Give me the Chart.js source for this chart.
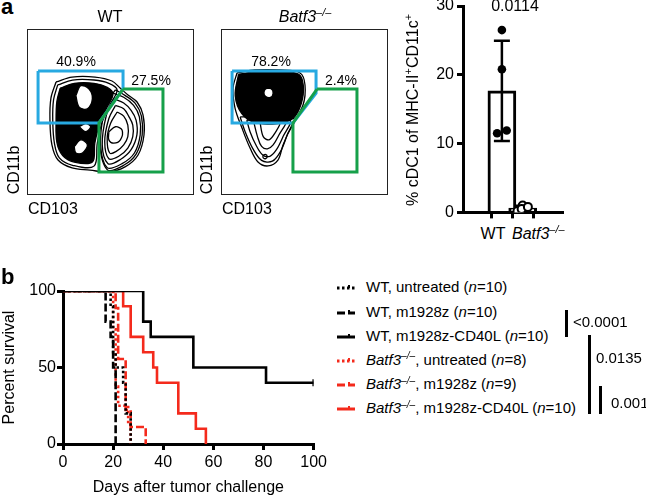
<!DOCTYPE html>
<html>
<head>
<meta charset="utf-8">
<script src="https://cdn.jsdelivr.net/npm/chart.js@4.4.1/dist/chart.umd.min.js"></script>
<style>
  body { margin: 0; background: #fff; }
  #fig { position: relative; width: 646px; height: 499px; overflow: hidden; background: #fff;
         font-family: "Liberation Sans", Arial, sans-serif; color: #000; }
  .abs { position: absolute; }
  .box { position: absolute; outline: 1px solid #222; width: 165px; height: 164px; }
  .box canvas { display: block; }
  .lbl { position: absolute; line-height: 1; white-space: nowrap; }
  .lbl sup { font-size: 0.68em; vertical-align: 0; position: relative; top: -0.55em; }
  .vlbl { position: absolute; line-height: 1; white-space: nowrap; transform: translate(-50%, -50%) rotate(-90deg); }
  .vlbl sup { font-size: 0.68em; vertical-align: 0; position: relative; top: -0.55em; }
  .sig { position: absolute; background: #000; width: 3px; }
</style>
</head>
<body>
<div id="fig">
  <div class="box" style="left:28px;top:30px;"><canvas id="flowWt" width="165" height="164"></canvas></div>
  <div class="box" style="left:222px;top:30px;"><canvas id="flowBatf" width="165" height="164"></canvas></div>
  <canvas id="cdcChart" class="abs" style="left:420px;top:-10px;" width="148" height="235"></canvas>
  <canvas id="survChart" class="abs" style="left:0;top:270px;" width="330" height="229"></canvas>
</div>
<script>
// ---- panel a: flow plots (CD103 on x, CD11b on y, arbitrary 0-100 units) ----
const wtOuter = [[17,68.3],[26.7,71.3],[40.6,71.3],[50.9,68.9],[55.8,64.6],[60.6,60.4],[66.1,56.1],[69.7,48.2],[70.3,36],[66.7,23.8],[58.8,16.5],[48.5,13.4],[37.6,14.6],[26.7,15.9],[18.2,20.7],[14.5,29.9],[13.3,45.1],[13.9,58.5]];
const wtLeftRing = [[18,66.5],[27,69.5],[40,69.5],[49,67.5],[54,63.5],[50,55],[45,44],[42,31],[40,17],[27,17.5],[19,22],[16,31],[15,45],[15.5,57.5]];
const wtCore = [[19.5,64.5],[28,67.5],[40,67.5],[48,65],[51.5,61],[48,53],[43.5,43],[40.5,31],[39,19.5],[28,19.5],[21,23.5],[17.5,31.5],[17,45],[17.5,56.5]];
const wtRings = [
  [[53,63.5],[59,60],[65,55.3],[68.7,47.6],[69.2,36],[65.6,24.5],[58,17.5],[48.2,14.7],[43.5,30],[45,52]],
  [[50,62],[58,59],[64,54],[67.5,47],[68,36],[64.5,25],[57,18.5],[48,16],[44,30],[46,50]],
  [[52,58],[58,55.5],[62.5,51],[65.5,45],[66,36],[62.5,27],[56,21],[48.5,18.5],[45,30],[47.5,48]],
  [[53,54],[58,52],[61,47.5],[63.5,42],[63.5,35],[60.5,28],[55,23],[49,21.5],[46.5,32],[49,46]],
  [[54,50],[58,47.5],[60.5,42],[60.5,35],[58,30],[53.5,26],[49.5,25],[48,34],[50,43]]
];
const wtHoles = [
  [[29,60],[32,66],[37,64],[39,58],[36,52],[31,53]],
  [[28,29],[32,33],[36,30],[33,25],[29,25]],
  [[31,41],[35,43],[38,41],[35,38]],
  [[49,38],[53,41],[57,39],[56,33],[52,31],[49,33]]
];
const wtGateCd11b = [[6.1,75],[57.6,75],[57.6,64],[43,43.3],[6.1,43.3]];
const wtGateCd103 = [[57.6,64],[81.8,64],[81.8,13.4],[43,13.4],[43,43.3]];

const batfOuter = [[9.1,73.8],[20,75.6],[35.2,75.6],[47.3,73.8],[50.3,66.5],[49.1,54.3],[42.4,42.1],[37,29.9],[33.9,20.7],[27.9,17.1],[21.8,19.5],[17,28],[12.1,40.2],[7.9,52.4],[6.7,64.6]];
const batfCore = [[10,73],[20,74.5],[35,74.5],[46.5,73],[49.3,66],[48,55],[43,46],[34,43],[20,43.5],[12,49],[8,60]];
const batfRings = [
  [[11,47],[43.5,46],[39.5,36],[35.5,26],[30.5,20],[24,20.5],[18.5,28],[14,38]],
  [[15,45],[41,45],[37,35],[33,27],[29,23],[24.5,24],[20.5,30],[17,38]],
  [[19,45],[38.5,45],[34.5,36],[31,30],[27.5,27.5],[24,29],[21.5,35]],
  [[23,44],[35,44],[32,37],[28.5,33],[25,35]],
  [[24.8,23.5],[26.2,24.2],[27.4,23],[26.5,21.6],[25,22]]
];
const batfHoles = [[[26.8,63.5],[29.3,63.5],[30.2,61.5],[29,59.6],[26.8,60.2],[26.2,61.8]]];
const batfGateCd11b = [[6.1,75],[57,75],[57,61.5],[43,43.3],[6.1,43.3]];
const batfGateCd103 = [[57.6,64],[81.8,64],[81.8,13.4],[43,13.4],[43,43.3]];

// ---- panel a: % cDC1 bar chart ----
const cdcGroups = ['WT', 'Batf3'];
const wtCdc1 = [26.5, 20.8, 11.5, 11.9];
const batfCdc1 = [0.2, 1.0, 0.5, 0.8];
const wtJitter = [0, 0, -0.23, 0.23];
const batfJitter = [-0.25, 0, -0.05, 0.25];
const cdcTicks = [0, 10, 20, 30];

// ---- panel b: survival ----
const wtUntreatedDays = [0, 19, 20, 21, 24, 25, 27];
const wtUntreatedSurv = [100, 90, 60, 50, 40, 20, 0];
const wtCarDays = [0, 17, 19, 20, 21];
const wtCarSurv = [100, 80, 70, 50, 0];
const wtCd40lDays = [0, 32, 35, 52, 81, 100];
const wtCd40lSurv = [100, 80, 70, 50, 40, 40];
const batfUntreatedDays = [0, 20, 21, 22, 26, 27];
const batfUntreatedSurv = [100, 75, 37.5, 25, 12.5, 0];
const batfCarDays = [0, 21, 22, 25, 27, 33];
const batfCarSurv = [100, 88.9, 55.6, 22.2, 11.1, 0];
const batfCd40lDays = [0, 24, 27, 32, 36, 37.5, 46, 53, 57];
const batfCd40lSurv = [100, 90, 70, 60, 50, 40, 20, 10, 0];
const survLabels = [
  'WT, untreated (<i>n</i>=10)',
  'WT, m1928z (<i>n</i>=10)',
  'WT, m1928z-CD40L (<i>n</i>=10)',
  '<i>Batf3<sup>\u2013/\u2013</sup></i>, untreated (<i>n</i>=8)',
  '<i>Batf3<sup>\u2013/\u2013</sup></i>, m1928z (<i>n</i>=9)',
  '<i>Batf3<sup>\u2013/\u2013</sup></i>, m1928z-CD40L (<i>n</i>=10)'
];
const survPValues = ['<0.0001', '0.0135', '0.001'];

const BLUE = '#27a9e1', GREEN = '#16a04a', RED = '#f42a1c';

Chart.defaults.font.family = '"Liberation Sans", Arial, sans-serif';
Chart.defaults.color = '#000';
Chart.defaults.animation = false;
Chart.defaults.events = [];
Chart.defaults.plugins.legend.display = false;
Chart.defaults.plugins.tooltip.enabled = false;

const fig = document.getElementById('fig');

// fills a closed line dataset using the element's own path
const shapeFill = {
  id: 'shapeFill',
  beforeDatasetDraw(chart, args) {
    const ds = chart.data.datasets[args.index];
    if (!ds.shapeColor) return;
    const ctx = chart.ctx;
    ctx.save();
    ctx.beginPath();
    args.meta.dataset.path(ctx);
    ctx.closePath();
    ctx.fillStyle = ds.shapeColor;
    ctx.fill();
    ctx.restore();
  }
};

const closed = pts => pts.concat([pts[0]]).map(p => ({ x: p[0], y: p[1] }));

function flowChart(id, layers) {
  new Chart(document.getElementById(id), {
    type: 'line',
    data: {
      datasets: layers.map((l, i) => ({
        data: closed(l.pts),
        borderColor: l.stroke || 'rgba(0,0,0,0)',
        borderWidth: l.width || 0,
        shapeColor: l.fill,
        fill: false,
        tension: l.smooth ? 0.35 : 0,
        pointRadius: 0,
        order: -i
      }))
    },
    options: {
      responsive: false,
      layout: { padding: 0 },
      scales: {
        x: { type: 'linear', min: 0, max: 100, display: false },
        y: { type: 'linear', min: 0, max: 100, display: false }
      }
    },
    plugins: [shapeFill]
  });
}

const contour = (pts, extra) => Object.assign({ pts, stroke: '#000', width: 1.3, smooth: true }, extra || {});

flowChart('flowWt', [
  contour(wtOuter),
  contour(wtLeftRing),
  contour(wtCore, { fill: '#000' }),
  ...wtRings.map(r => contour(r)),
  ...wtHoles.map(h => contour(h, { fill: '#fff' })),
  { pts: wtGateCd11b, stroke: BLUE, width: 3 },
  { pts: wtGateCd103, stroke: GREEN, width: 3 }
]);

flowChart('flowBatf', [
  contour(batfOuter),
  ...batfRings.map(r => contour(r)),
  contour(batfCore, { fill: '#000' }),
  ...batfHoles.map(h => contour(h, { fill: '#fff', stroke: '#fff' })),
  { pts: batfGateCd11b, stroke: BLUE, width: 3 },
  { pts: batfGateCd103, stroke: GREEN, width: 3 }
]);

// ---- bar chart ----
const mean = v => v.reduce((a, b) => a + b, 0) / v.length;
const sd = v => { const m = mean(v); return Math.sqrt(v.reduce((a, b) => a + (b - m) ** 2, 0) / (v.length - 1)); };
const cdcSets = [wtCdc1, batfCdc1];

const errorBars = {
  id: 'errorBars',
  afterDatasetDraw(chart, args) {
    if (args.index !== 0) return;
    const { ctx, scales: { x, y } } = chart;
    cdcSets.forEach((vals, i) => {
      const m = mean(vals), s = sd(vals);
      const px = x.getPixelForValue(i);
      const top = y.getPixelForValue(m + s), bot = y.getPixelForValue(Math.max(m - s, 0));
      ctx.save();
      ctx.strokeStyle = '#000';
      ctx.lineWidth = 2.5;
      ctx.beginPath();
      ctx.moveTo(px, top); ctx.lineTo(px, bot);
      ctx.moveTo(px - 8, top); ctx.lineTo(px + 8, top);
      ctx.moveTo(px - 8, bot); ctx.lineTo(px + 8, bot);
      ctx.stroke();
      ctx.restore();
    });
  }
};

new Chart(document.getElementById('cdcChart'), {
  type: 'bar',
  data: {
    datasets: [
      {
        data: cdcGroups.map((g, i) => ({ x: i, y: mean(cdcSets[i]) })),
        backgroundColor: '#fff', borderColor: '#000', borderWidth: 3,
        borderSkipped: 'start', barThickness: 28, order: 2
      },
      {
        type: 'scatter',
        data: wtCdc1.map((v, i) => ({ x: 0 + wtJitter[i], y: v })),
        pointRadius: 4.3, pointBackgroundColor: '#000', pointBorderColor: '#000', pointBorderWidth: 0, order: 1
      },
      {
        type: 'scatter',
        data: batfCdc1.map((v, i) => ({ x: 1 + batfJitter[i], y: v })),
        pointRadius: 4, pointBackgroundColor: '#fff', pointBorderColor: '#000', pointBorderWidth: 2, order: 0
      }
    ]
  },
  options: {
    responsive: false,
    layout: { padding: { top: 16, bottom: 6, left: 0, right: 0 } },
    scales: {
      x: {
        type: 'linear', min: -0.68, max: 1.7,
        afterBuildTicks: s => { s.ticks = [0, 1].map(v => ({ value: v })); },
        ticks: { display: false },
        grid: { drawOnChartArea: false, tickLength: 6, lineWidth: 3, color: '#000' },
        border: { width: 3, color: '#000' }
      },
      y: {
        min: 0, max: 30,
        afterBuildTicks: s => { s.ticks = cdcTicks.map(v => ({ value: v })); },
        afterFit: s => { s.width = 43; },
        ticks: { font: { size: 16 }, padding: 3 },
        grid: { drawOnChartArea: false, tickLength: 6, lineWidth: 3, color: '#000' },
        border: { width: 3, color: '#000' }
      }
    }
  },
  plugins: [errorBars]
});

// ---- survival chart ----
const toPts = (d, s) => d.map((t, i) => ({ x: t, y: s[i] }));
const survSeries = [
  { days: wtUntreatedDays, surv: wtUntreatedSurv },
  { days: wtCarDays, surv: wtCarSurv },
  { days: wtCd40lDays, surv: wtCd40lSurv },
  { days: batfUntreatedDays, surv: batfUntreatedSurv },
  { days: batfCarDays, surv: batfCarSurv },
  { days: batfCd40lDays, surv: batfCd40lSurv }
];
const survStyles = [
  { color: '#000', dash: [2.5, 2.5] },
  { color: '#000', dash: [8, 3] },
  { color: '#000', dash: [] },
  { color: RED, dash: [2.5, 2.5] },
  { color: RED, dash: [8, 3] },
  { color: RED, dash: [] }
];

new Chart(document.getElementById('survChart'), {
  type: 'line',
  data: {
    datasets: survSeries.map((s, i) => ({
      data: toPts(s.days, s.surv),
      stepped: 'before',
      borderColor: survStyles[i].color,
      borderDash: survStyles[i].dash,
      borderWidth: 2.6,
      pointRadius: s.days.map((d, j) => (i === 2 && j === s.days.length - 1) ? 3.5 : 0),
      pointStyle: 'line', rotation: 90,
      pointBorderColor: survStyles[i].color, pointBorderWidth: 2.5,
      fill: false
    }))
  },
  options: {
    responsive: false,
    layout: { padding: { top: 21, right: 15, left: 0, bottom: 0 } },
    scales: {
      x: {
        type: 'linear', min: 0, max: 100,
        ticks: { stepSize: 20, font: { size: 16 }, padding: 3, maxRotation: 0 },
        afterFit: s => { s.height = 55; },
        title: { display: true, text: 'Days after tumor challenge', font: { size: 16 }, padding: { top: 0, bottom: 2 } },
        grid: { drawOnChartArea: false, tickLength: 6, lineWidth: 3, color: '#000' },
        border: { width: 3, color: '#000' }
      },
      y: {
        min: 0, max: 100,
        ticks: { stepSize: 50, font: { size: 16 }, padding: 1 },
        afterFit: s => { s.width = 63; },
        title: { display: true, text: 'Percent survival', font: { size: 16 }, padding: 0 },
        grid: { drawOnChartArea: false, tickLength: 6, lineWidth: 3, color: '#000' },
        border: { width: 3, color: '#000' }
      }
    }
  }
});

// ---- text ----
function addText(html, x, base, size, opts) {
  opts = opts || {};
  const d = document.createElement('div');
  d.className = 'lbl';
  d.innerHTML = html;
  d.style.fontSize = size + 'px';
  d.style.left = x + 'px';
  d.style.top = (base - 0.8465 * size) + 'px';
  if (opts.bold) d.style.fontWeight = 'bold';
  if (opts.align === 'center') d.style.transform = 'translateX(-50%)';
  fig.appendChild(d);
}
function addVText(html, cx, cy, size) {
  const d = document.createElement('div');
  d.className = 'vlbl';
  d.innerHTML = html;
  d.style.fontSize = size + 'px';
  d.style.left = cx + 'px';
  d.style.top = cy + 'px';
  fig.appendChild(d);
}
const batf = '<i>Batf3<sup>\u2013/\u2013</sup></i>';

addText('a', 1, 15, 22, { bold: true });
addText('WT', 110, 23, 16, { align: 'center' });
addText(batf, 305, 23, 16, { align: 'center' });
addText('40.9%', 76, 66, 14, { align: 'center' });
addText('27.5%', 151, 85, 14, { align: 'center' });
addText('78.2%', 271, 66, 14, { align: 'center' });
addText('2.4%', 325, 85, 14);
addVText('CD11b', 13.5, 170, 16);
addVText('CD11b', 207, 170, 16);
addText('CD103', 28, 215, 16);
addText('CD103', 222, 215, 16);

addText('0.0114', 515, 12, 16, { align: 'center' });
addText('WT', 493, 240, 16, { align: 'center' });
addText(batf, 512, 240, 16);
addVText('% cDC1 of MHC-II<sup>+</sup>CD11c<sup>+</sup>', 413, 110, 16);

addText('b', 1, 285, 22, { bold: true });

const rowBase = [292, 316.5, 340.5, 364.5, 389, 413];
survLabels.forEach((lab, i) => {
  addText(lab, 366, rowBase[i], 15);
  const st = survStyles[i];
  const svg = document.createElementNS('http://www.w3.org/2000/svg', 'svg');
  svg.setAttribute('width', 20); svg.setAttribute('height', 10);
  svg.style.position = 'absolute';
  svg.style.left = '336px';
  svg.style.top = (rowBase[i] - 10) + 'px';
  svg.innerHTML = '<line x1="1" y1="6" x2="19" y2="6" stroke="' + st.color + '" stroke-width="3" stroke-dasharray="' +
    (st.dash.length ? st.dash.join(' ') : 'none') + '"/>' +
    '<line x1="13" y1="3" x2="13" y2="6" stroke="' + st.color + '" stroke-width="2"/>';
  fig.appendChild(svg);
});

[[566, 310, 337], [589, 335, 414], [600, 386, 414]].forEach(b => {
  const d = document.createElement('div');
  d.className = 'sig';
  d.style.left = (b[0] - 1.5) + 'px';
  d.style.top = b[1] + 'px';
  d.style.height = (b[2] - b[1]) + 'px';
  fig.appendChild(d);
});
addText(survPValues[0].replace('<', '&lt;'), 573, 327, 15);
addText(survPValues[1], 596, 363, 15);
addText(survPValues[2], 611, 408, 15);
</script>
</body>
</html>
